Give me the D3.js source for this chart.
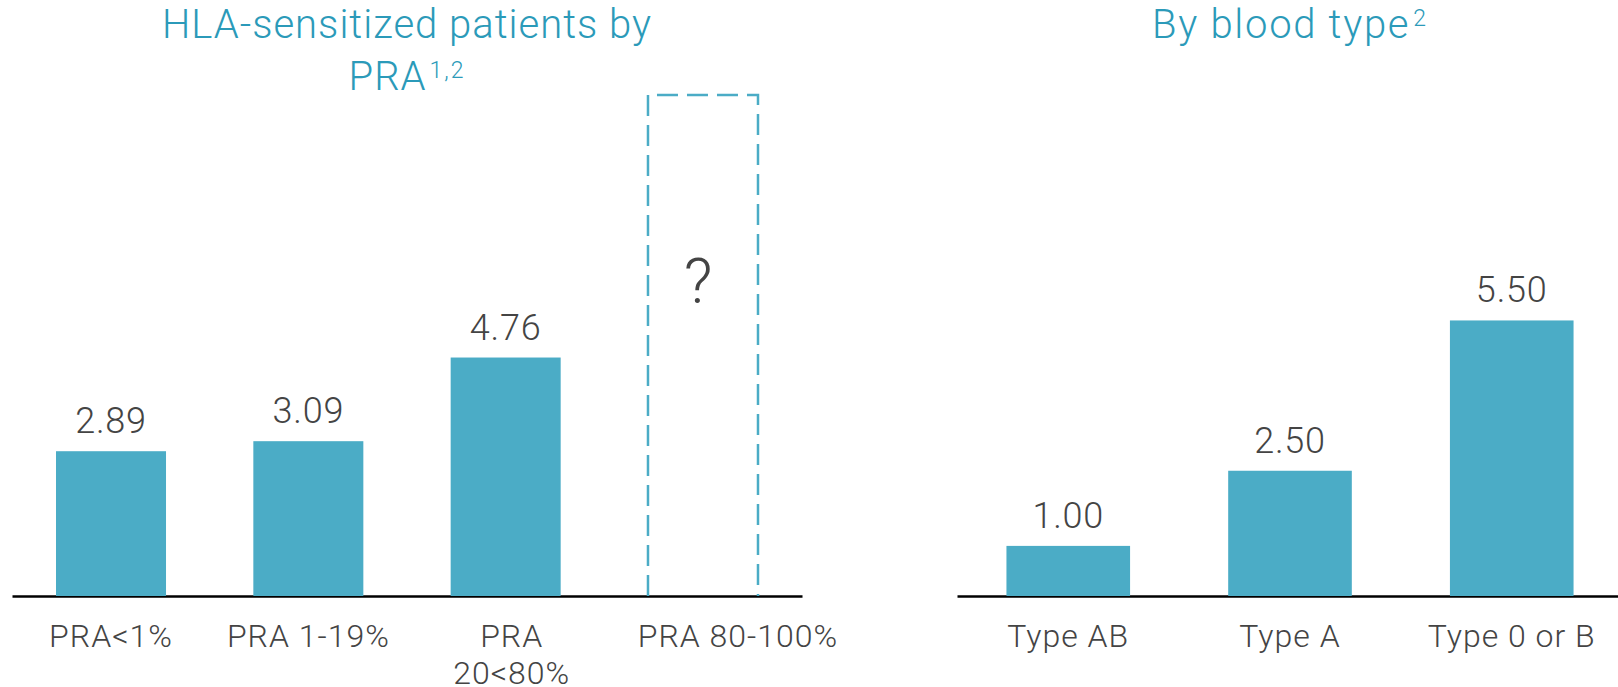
<!DOCTYPE html>
<html>
<head>
<meta charset="utf-8">
<script src="https://cdn.jsdelivr.net/npm/d3@7"></script>
<style>
  html, body { margin: 0; padding: 0; background: #fff; }
  svg { display: block; font-family: Roboto, "Liberation Sans", sans-serif; font-weight: 300; }
</style>
</head>
<body>
<svg id="chart" width="1618" height="687"></svg>
<script>
// Data
var praCategories = ['PRA<1%', 'PRA 1-19%', 'PRA\n20<80%', 'PRA 80-100%'];
var praValues = [2.89, 3.09, 4.76, null];   // last group unknown
var praUnknownMax = 10;                      // height of the dashed "?" box
var bloodCategories = ['Type AB', 'Type A', 'Type 0 or B'];
var bloodValues = [1.00, 2.50, 5.50];

var barColor = '#4bacc6';
var titleColor = '#2b9ab9';
var textColor = '#444444';

var svg = d3.select('#chart');
var baseY = 596;

// shared vertical scale (both panels use the same units)
var y = d3.scaleLinear().domain([0, 10]).range([baseY, 95]);

function drawPanel(opts) {
    var g = svg.append('g');
    var x = d3.scaleBand()
        .domain(opts.categories)
        .range(opts.range)
        .paddingInner(0.4425)
        .paddingOuter(0.223);

    // axis
    var axis = g.append('g')
        .attr('transform', 'translate(0,' + baseY + ')')
        .call(d3.axisBottom(x).tickSize(0).tickPadding(0));
    axis.select('.domain')
        .attr('stroke', '#000')
        .attr('stroke-width', 2.5);
    axis.selectAll('.tick')
        .attr('transform', function (d, i) {
            var nudge = opts.labelNudge ? opts.labelNudge[i] : 0;
            return 'translate(' + (x(d) + x.bandwidth() / 2 + nudge) + ',0)';
        });
    axis.selectAll('.tick text')
        .attr('y', 51)
        .attr('dy', null)
        .attr('fill', textColor)
        .style('font-size', '32px')
        .style('letter-spacing', '1px')
        .style('font-family', 'Roboto, "Liberation Sans", sans-serif')
        .style('font-weight', 300)
        .each(function (d) {
            var t = d3.select(this);
            var lines = d.split('\n');
            t.text(null);
            lines.forEach(function (line, i) {
                t.append('tspan')
                    .attr('x', 0)
                    .attr('dy', i === 0 ? 0 : 37)
                    .text(line);
            });
        });

    var data = opts.categories.map(function (c, i) { return { cat: c, value: opts.values[i] }; });
    var known = data.filter(function (d) { return d.value !== null; });

    g.selectAll('rect.bar')
        .data(known)
        .enter()
        .append('rect')
        .attr('class', 'bar')
        .attr('x', function (d) { return x(d.cat); })
        .attr('y', function (d) { return y(d.value); })
        .attr('width', x.bandwidth())
        .attr('height', function (d) { return baseY - y(d.value); })
        .attr('fill', barColor);

    g.selectAll('text.value')
        .data(known)
        .enter()
        .append('text')
        .attr('class', 'value')
        .attr('x', function (d) { return x(d.cat) + x.bandwidth() / 2; })
        .attr('y', function (d) { return y(d.value) - 18; })
        .attr('text-anchor', 'middle')
        .attr('fill', textColor)
        .style('font-size', '36px')
        .style('letter-spacing', '0.8px')
        .text(function (d) { return d3.format('.2f')(d.value); });

    // unknown group: dashed outline with a question mark
    var unknown = data.filter(function (d) { return d.value === null; });
    g.selectAll('path.unknown')
        .data(unknown)
        .enter()
        .append('path')
        .attr('class', 'unknown')
        .attr('d', function (d) {
            var x0 = x(d.cat), x1 = x0 + x.bandwidth();
            return 'M' + x0 + ',' + baseY + 'V' + y(praUnknownMax) + 'H' + x1 + 'V' + baseY;
        })
        .attr('fill', 'none')
        .attr('stroke', barColor)
        .attr('stroke-width', 2.5)
        .attr('stroke-dasharray', '21,9');
    g.selectAll('text.unknown')
        .data(unknown)
        .enter()
        .append('text')
        .attr('class', 'unknown')
        .attr('x', function (d) { return x(d.cat) + x.bandwidth() / 2 - 5; })
        .attr('y', y(5.85))
        .attr('text-anchor', 'middle')
        .attr('fill', textColor)
        .style('font-size', '63px')
        .text('?');

    // title
    var cx = (opts.range[0] + opts.range[1]) / 2;
    opts.title.forEach(function (line, i) {
        var t = g.append('text')
            .attr('x', cx)
            .attr('y', 38 + i * 52)
            .attr('text-anchor', 'middle')
            .attr('fill', titleColor)
            .style('font-size', '40px')
            .style('letter-spacing', opts.titleSpacing + 'px');
        t.append('tspan').text(line[0]);
        if (line[1]) {
            t.append('tspan')
                .attr('dx', 3)
                .attr('dy', -12)
                .style('font-size', '23px')
                .style('letter-spacing', '2px')
                .text(line[1]);
        }
    });
}

drawPanel({
    categories: praCategories,
    values: praValues,
    range: [12, 802],
    labelNudge: [0, 0, 6, 35],
    titleSpacing: 1,
    title: [['HLA-sensitized patients by'], ['PRA', '1,2']]
});

drawPanel({
    categories: bloodCategories,
    values: bloodValues,
    range: [957, 1623],
    titleSpacing: 1.7,
    title: [['By blood type', '2']]
});
</script>
</body>
</html>
